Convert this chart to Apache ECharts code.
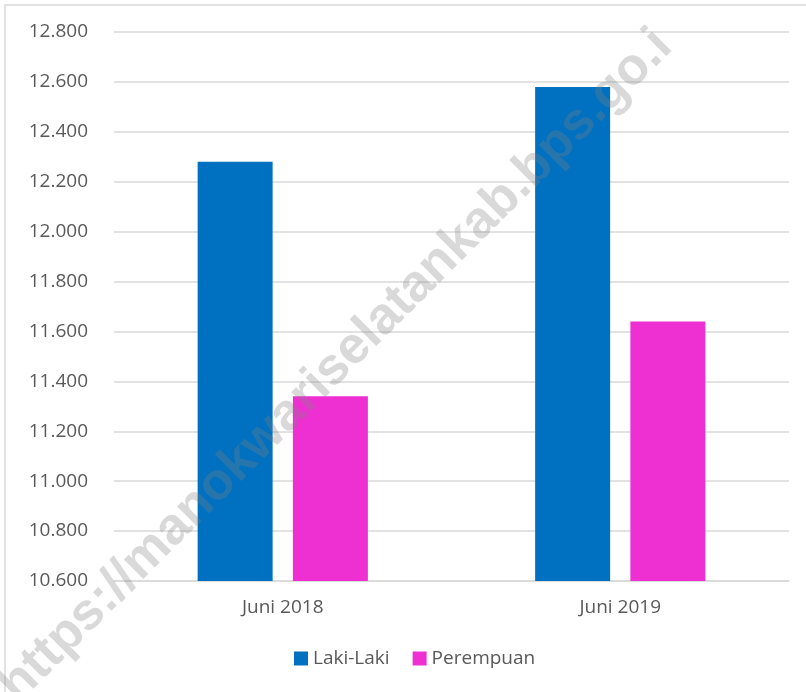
<!DOCTYPE html>
<html><head><meta charset="utf-8">
<script src="https://cdn.jsdelivr.net/npm/echarts@6/dist/echarts.min.js"></script>
<style>html,body{margin:0;padding:0;background:#fff}#c{width:806px;height:692px}</style>
</head><body><div id="c"></div>
<script>
const categories = ['Juni 2018', 'Juni 2019'];
const lakiLaki = [12280, 12580];
const perempuan = [11340, 11640];
const yMin = 10600, yMax = 12800, yStep = 200;
const watermark = 'https://manokwariselatankab.bps.go.i';

const chart = echarts.init(document.getElementById('c'));
const fmt = v => { const s = String(Math.round(v)); return s.slice(0, s.length-3) + '.' + s.slice(-3); };
const font = '"Open Sans", sans-serif';
chart.setOption({
  animation: false,
  grid: { left: 114, right: 17, top: 32, bottom: 111 },
  legend: {
    bottom: 19, left: 289, itemWidth: 14, itemHeight: 14, itemGap: 23,
    icon: 'rect',
    textStyle: { color: '#595959', fontSize: 19, fontFamily: font },
    data: ['Laki-Laki', 'Perempuan']
  },
  xAxis: {
    type: 'category', data: categories,
    axisLine: { lineStyle: { color: '#d9d9d9', width: 1.5 } },
    axisTick: { show: false },
    axisLabel: { color: '#595959', fontSize: 19, fontFamily: font, margin: 17 }
  },
  yAxis: {
    type: 'value', min: yMin, max: yMax, interval: yStep,
    axisLine: { show: false }, axisTick: { show: false },
    splitLine: { lineStyle: { color: '#d9d9d9', width: 1.5 } },
    axisLabel: { color: '#595959', fontSize: 19, fontFamily: font, margin: 26, formatter: fmt }
  },
  series: [
    { name: 'Laki-Laki', type: 'bar', data: lakiLaki, barWidth: 75, barGap: '27%',
      itemStyle: { color: '#0070C0' } },
    { name: 'Perempuan', type: 'bar', data: perempuan, barWidth: 75,
      itemStyle: { color: '#EE30D2' } }
  ],
  graphic: [
    { type: 'rect', shape: { x: 5, y: 5, width: 900, height: 900 }, silent: true, z: -10,
      style: { fill: 'none', stroke: '#d9d9d9', lineWidth: 1.5 } },
    { type: 'text', x: 336, y: 366, rotation: Math.PI / 4, z: 100, silent: true,
      style: { text: watermark, fill: 'rgba(128,128,128,0.3)', font: 'bold 52px "Liberation Sans", Arial, sans-serif',
        align: 'center', verticalAlign: 'middle' } }
  ]
});
</script></body></html>
